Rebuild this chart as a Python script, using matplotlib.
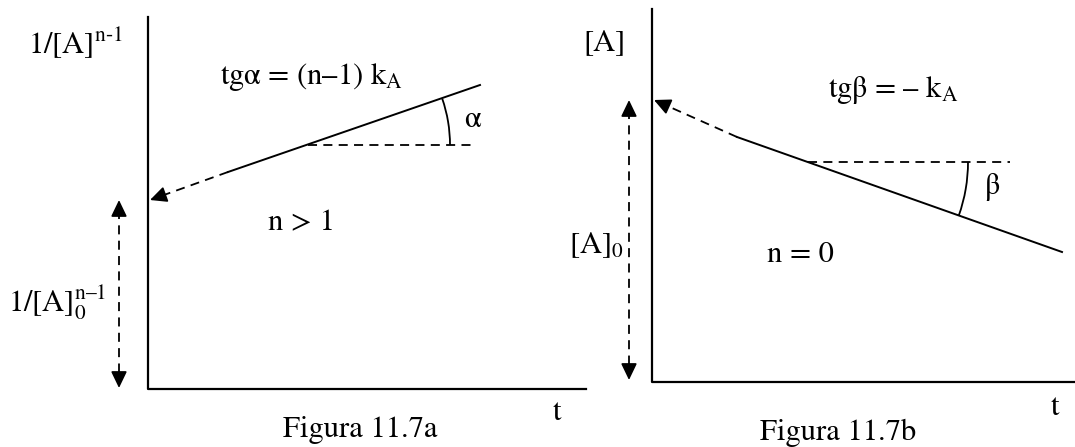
import numpy as np
import matplotlib
matplotlib.use("Agg")
import matplotlib.pyplot as plt
from matplotlib.patches import Arc

plt.rcParams['font.family'] = ['STIXGeneral', 'Liberation Serif', 'DejaVu Serif']
plt.rcParams['mathtext.fontset'] = 'stix'

# diagram geometry (pixel units, y grows downward)
# figure a: 1/[A]^(n-1) vs t, n > 1
a_axis_x = [148, 148, 586]
a_axis_y = [17, 389, 389]
a_solid_x = [228, 480]
a_solid_y = [172, 85]
a_extrap_x = [228, 150]
a_extrap_y = [172, 200]
a_horiz_x = [308, 473]
a_horiz_y = [145, 145]
a_vertex = (308, 145)
a_arc_r = 142
a_angle = 19.0
a_span_x = 119
a_span_y = [200, 388]

# figure b: [A] vs t, n = 0
b_axis_x = [652, 652, 1075]
b_axis_y = [9, 382, 382]
b_solid_x = [737, 1062]
b_solid_y = [137, 252]
b_extrap_x = [737, 654]
b_extrap_y = [137, 100]
b_horiz_x = [808, 1010]
b_horiz_y = [162, 162]
b_vertex = (808, 162)
b_arc_r = 160
b_angle = 19.5
b_span_x = 629
b_span_y = [100, 380]

fig = plt.figure(figsize=(10.75, 4.47), dpi=100)
ax = fig.add_axes([0, 0, 1, 1])
ax.set_xlim(0, 1075)
ax.set_ylim(447, 0)
ax.axis('off')

dash = (5, 3.5)
head = '-|>,head_length=0.5,head_width=0.24'


def arrow_head(x0, y0, x1, y1):
    # short solid segment ending in a filled head at (x1, y1)
    v = np.array([x1 - x0, y1 - y0], float)
    v /= np.hypot(*v)
    ax.annotate('', xy=(x1, y1), xytext=(x1 - 14 * v[0], y1 - 14 * v[1]),
                arrowprops=dict(arrowstyle=head, color='k', lw=1.3,
                                shrinkA=0, shrinkB=0, mutation_scale=20))


def dashed_to(xs, ys):
    v = np.array([xs[1] - xs[0], ys[1] - ys[0]], float)
    v /= np.hypot(*v)
    ax.plot([xs[0], xs[1] - 10 * v[0]], [ys[0], ys[1] - 10 * v[1]],
            color='k', lw=1.3, dashes=dash)
    arrow_head(xs[0], ys[0], xs[1], ys[1])


def span_arrow(x, ys):
    ax.plot([x, x], [ys[0] + 10, ys[1] - 10], color='k', lw=1.3, dashes=dash)
    arrow_head(x, ys[1], x, ys[0])
    arrow_head(x, ys[0], x, ys[1])


# ---- Figura 11.7a ----
ax.plot(a_axis_x, a_axis_y, color='k', lw=1.6)
ax.plot(a_solid_x, a_solid_y, color='k', lw=1.4)
dashed_to(a_extrap_x, a_extrap_y)
ax.plot(a_horiz_x, a_horiz_y, color='k', lw=1.3, dashes=dash)
ax.add_patch(Arc(a_vertex, 2 * a_arc_r, 2 * a_arc_r, theta1=-a_angle, theta2=0,
                 color='k', lw=1.3))
span_arrow(a_span_x, a_span_y)

fs = 22
ax.text(75, 43, r'1/[A]$^{\mathrm{n}\text{-}\mathrm{1}}$', fontsize=fs, ha='center', va='center')
ax.text(220, 77, 'tgα = (n–1) k$_{\mathrm{A}}$', fontsize=fs, ha='left', va='center')
ax.text(472, 120, 'α', fontsize=fs, ha='center', va='center')
ax.text(301, 223, 'n > 1', fontsize=fs, ha='center', va='center')
ax.text(57, 303, r'1/[A]$_{\mathrm{0}}^{\mathrm{n}–\mathrm{1}}$', fontsize=fs, ha='center', va='center')
ax.text(557, 413, 't', fontsize=fs, ha='center', va='center')
ax.text(360, 430, 'Figura 11.7a', fontsize=fs, ha='center', va='center')

# ---- Figura 11.7b ----
ax.plot(b_axis_x, b_axis_y, color='k', lw=1.6)
ax.plot(b_solid_x, b_solid_y, color='k', lw=1.4)
dashed_to(b_extrap_x, b_extrap_y)
ax.plot(b_horiz_x, b_horiz_y, color='k', lw=1.3, dashes=dash)
ax.add_patch(Arc(b_vertex, 2 * b_arc_r, 2 * b_arc_r, theta1=0, theta2=b_angle,
                 color='k', lw=1.3))
span_arrow(b_span_x, b_span_y)

ax.text(604, 43, '[A]', fontsize=fs, ha='center', va='center')
ax.text(828, 90, 'tgβ = – k$_{\mathrm{A}}$', fontsize=fs, ha='left', va='center')
ax.text(992, 187, 'β', fontsize=fs, ha='center', va='center')
ax.text(800, 255, 'n = 0', fontsize=fs, ha='center', va='center')
ax.text(596, 245, '[A]$_{\mathrm{0}}$', fontsize=fs, ha='center', va='center')
ax.text(1055, 408, 't', fontsize=fs, ha='center', va='center')
ax.text(838, 433, 'Figura 11.7b', fontsize=fs, ha='center', va='center')

fig.savefig('out.png', dpi=100)
